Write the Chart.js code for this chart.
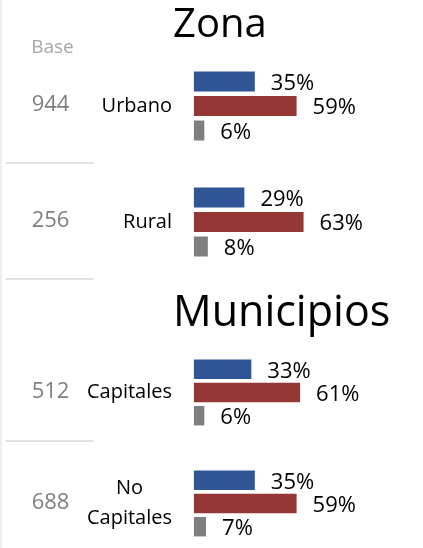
<!DOCTYPE html>
<html>
<head>
<meta charset="utf-8">
<script src="https://cdn.jsdelivr.net/npm/chart.js@4.4.1/dist/chart.umd.min.js"></script>
<style>
  html, body { margin: 0; padding: 0; background: #fff; }
  #wrap { position: relative; width: 423px; height: 548px; overflow: hidden; }
  #zona { position: absolute; left: 0; top: 0; }
  #municipios { position: absolute; left: 0; top: 281px; }
</style>
</head>
<body>
<div id="wrap">
  <canvas id="zona" width="423" height="281"></canvas>
  <canvas id="municipios" width="423" height="278"></canvas>
</div>
<script>
// Zona
const zonaCategories = ['Urbano', 'Rural'];
const zonaBases = [944, 256];
const zonaSerieA = [35, 29];
const zonaSerieB = [59, 63];
const zonaSerieC = [6, 8];

// Municipios
const municipiosCategories = ['Capitales', ['No', 'Capitales']];
const municipiosBases = [512, 688];
const municipiosSerieA = [33, 35];
const municipiosSerieB = [61, 59];
const municipiosSerieC = [6, 7];

const FONT = 'Open Sans';
const COLORS = ['#2f5597', '#953735', '#7f7f7f'];

// Percent text to the right of each bar
const valueLabels = {
  id: 'valueLabels',
  afterDatasetsDraw(chart) {
    const ctx = chart.ctx;
    ctx.save();
    ctx.font = '22px "' + FONT + '"';
    ctx.fillStyle = '#000';
    ctx.textAlign = 'left';
    ctx.textBaseline = 'middle';
    chart.data.datasets.forEach((ds, di) => {
      chart.getDatasetMeta(di).data.forEach((bar, i) => {
        ctx.fillText(ds.data[i] + '%', bar.x + 16, bar.y + 2);
      });
    });
    ctx.restore();
  }
};

// Base column, row separators and the left rule
const sideColumn = {
  id: 'sideColumn',
  afterDraw(chart, args, opts) {
    const ctx = chart.ctx;
    const y = chart.scales.y;
    const n = opts.bases.length;
    const step = y.getPixelForValue(1) - y.getPixelForValue(0);
    ctx.save();
    ctx.fillStyle = '#efefef';
    ctx.fillRect(0, 0, 2, chart.height);

    ctx.textAlign = 'center';
    ctx.textBaseline = 'middle';
    if (opts.header) {
      ctx.font = '19px "' + FONT + '"';
      ctx.fillStyle = '#a6a6a6';
      ctx.fillText(opts.header, 52.5, y.top);
    }
    ctx.font = '22px "' + FONT + '"';
    ctx.fillStyle = '#7f7f7f';
    opts.bases.forEach((b, i) => {
      ctx.fillText(String(b), 50.5, y.getPixelForValue(i) - 1);
    });

    ctx.strokeStyle = '#d9d9d9';
    ctx.lineWidth = 1.5;
    const count = opts.lastRule ? n : n - 1;
    for (let i = 0; i < count; i++) {
      const py = Math.round(y.getPixelForValue(i) + step / 2 + opts.ruleShift);
      ctx.beginPath();
      ctx.moveTo(6, py);
      ctx.lineTo(94, py);
      ctx.stroke();
    }
    ctx.restore();
  }
};

function buildChart(cfg) {
  return new Chart(document.getElementById(cfg.id), {
    type: 'bar',
    data: {
      labels: cfg.labels,
      datasets: cfg.series.map((data, k) => ({
        label: 'Serie ' + (k + 1),
        data: data,
        backgroundColor: COLORS[k],
        borderWidth: 0,
        categoryPercentage: cfg.catPct,
        barPercentage: cfg.barPct
      }))
    },
    options: {
      indexAxis: 'y',
      responsive: false,
      animation: false,
      events: [],
      layout: { padding: { left: 0, right: 0, top: 0, bottom: cfg.padBottom } },
      scales: {
        // the value axis starts a little left of zero so the title lines up with the labels
        x: { display: false, min: -12, max: 131.6 },
        y: {
          grid: { display: false, drawTicks: false },
          border: { display: false },
          ticks: {
            color: '#000',
            padding: 1,
            crossAlign: cfg.crossAlign,
            font: { family: FONT, size: 20, lineHeight: 1.5 }
          },
          afterFit(scale) {
            scale.width = 173;
            scale.paddingTop = 0;
            scale.paddingBottom = 0;
          }
        }
      },
      plugins: {
        legend: { display: false },
        tooltip: { enabled: false },
        title: {
          display: true,
          fullSize: false,
          text: cfg.title,
          align: 'start',
          color: '#000',
          font: { family: FONT, size: cfg.titleSize, weight: 'normal', lineHeight: 1.1 },
          padding: { top: cfg.titlePadTop, bottom: 0 }
        },
        sideColumn: { bases: cfg.bases, header: cfg.header, lastRule: cfg.lastRule, ruleShift: cfg.ruleShift }
      }
    },
    plugins: [valueLabels, sideColumn]
  });
}

buildChart({
  id: 'zona', title: 'Zona', titleSize: 40, titlePadTop: 4, padBottom: 1,
  labels: zonaCategories, bases: zonaBases, header: 'Base', lastRule: true, ruleShift: -1.5,
  series: [zonaSerieA, zonaSerieB, zonaSerieC],
  catPct: 0.634, barPct: 0.816, crossAlign: 'near'
});

buildChart({
  id: 'municipios', title: 'Municipios', titleSize: 43, titlePadTop: 8.7, padBottom: 0,
  labels: municipiosCategories, bases: municipiosBases, header: null, lastRule: false, ruleShift: -7,
  series: [municipiosSerieA, municipiosSerieB, municipiosSerieC],
  catPct: 0.627, barPct: 0.84, crossAlign: 'center'
});
</script>
</body>
</html>
